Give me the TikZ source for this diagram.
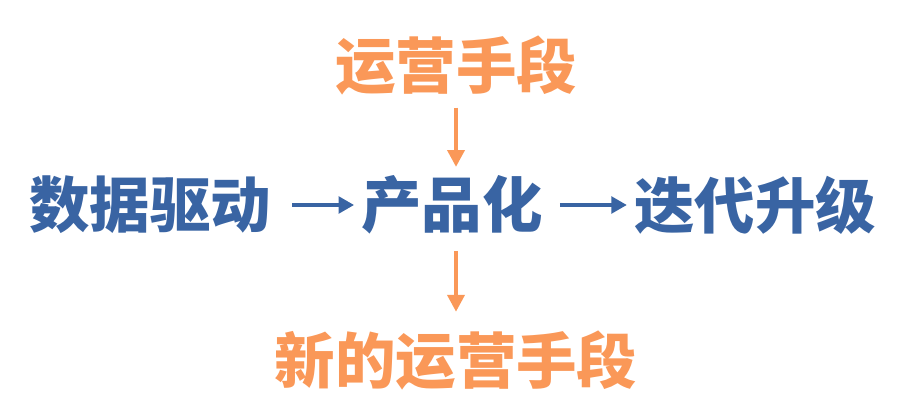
\documentclass[tikz,border=0pt]{standalone}
\usepackage{fontspec}
\newfontfamily\cjk{Noto Sans CJK SC}
\usetikzlibrary{positioning, arrows.meta}
\definecolor{cBlue}{RGB}{57,100,163}
\definecolor{cOrange}{RGB}{250,152,88}

\begin{document}
\begin{tikzpicture}[x=0.025cm, y=-0.025cm,
    word/.style={inner sep=0pt, font=\cjk\bfseries\fontsize{43}{50}\selectfont},
    flow/.style={cBlue, line width=2.2pt, -{Triangle[length=11pt, width=12pt]}},
    feed/.style={cOrange, line width=2.8pt, -{Triangle[length=12pt, width=12pt]}}]

    \useasboundingbox (0,0) rectangle (900,400);

    % --- Words ---
    \node[word, text=cOrange] (ops) at (456,65) {运营手段};
    \node[word, text=cBlue] (data) at (150,205) {数据驱动};
    \node[word, text=cBlue] (prod) at (452,205) {产品化};
    \node[word, text=cBlue] (iter) at (755,205) {迭代升级};
    \node[word, text=cOrange] (newops) at (456,360) {新的运营手段};

    % --- Arrows ---
    \draw[flow, shorten <=15pt, shorten >=5pt] (data.east) -- (prod.west);
    \draw[flow, shorten <=12pt, shorten >=5pt] (prod.east) -- (iter.west);
    \draw[feed, shorten <=9pt, shorten >=6pt] (ops.south) -- (ops.south |- prod.north);
    \draw[feed, shorten <=11.5pt, shorten >=13pt] (ops.south |- prod.south) -- (newops.north -| ops.south);

\end{tikzpicture}
\end{document}
